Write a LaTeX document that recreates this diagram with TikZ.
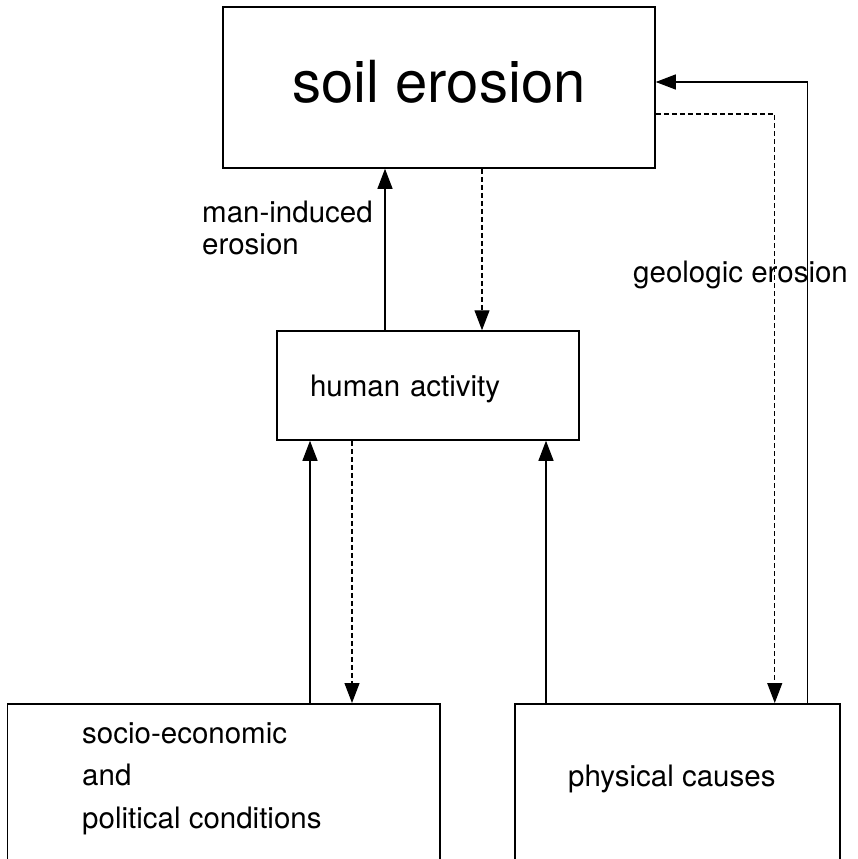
\documentclass[tikz,border=0pt]{standalone}
\usepackage{fontspec}
\setmainfont{TeX Gyre Heros}
\usetikzlibrary{arrows.meta,positioning}

\begin{document}
\begin{tikzpicture}[x=1pt,y=-1pt,
    box/.style={draw, line width=1.5pt, inner sep=0pt},
    lbl/.style={inner sep=0pt, font=\fontsize{29.5}{32}\selectfont, align=left},
    arr/.style={line width=1.1pt, -{Triangle[length=20pt,width=15pt]}},
    dasharr/.style={arr, dash pattern=on 5pt off 3pt}]
        \path[use as bounding box] (0,0) rectangle (857,859);
        \clip (0,0) rectangle (857,859);

        \node[box, minimum width=432pt, minimum height=161pt, text depth=12pt, font=\fontsize{58}{60}\selectfont] (soil) at (439,87.5) {soil erosion};
        \node[box, minimum width=302pt, minimum height=109pt, text width=236pt, text height=29pt, align=left, font=\fontsize{29.5}{32}\selectfont] (human) at (428,385.5) {human activity};
        \node[box, minimum width=432.5pt, minimum height=260pt, anchor=north west] (socio) at (6.5,703) {};
        \node[box, minimum width=325pt, minimum height=260pt, anchor=north west] (phys) at (514,703) {};

        \node[lbl, font=\fontsize{29.5}{42.6}\selectfont, anchor=north west] (sociotext) at (82,722) {socio-economic\\and\\political conditions};
        \node[lbl, anchor=base west] (phystext) at (568,786) {physical causes};
        \node[lbl, anchor=north west] (manlbl) at (202,201) {man-induced\\erosion};
        \node[lbl, anchor=base west] (geolbl) at (633,282) {geologic erosion};

        \draw[arr] ([xshift=-43pt]human.north) -- ([xshift=-43pt]human.north |- soil.south);
        \draw[dasharr] ([xshift=54pt]human.north |- soil.south) -- ([xshift=54pt]human.north);

        \foreach \dx in {-118,118} {
             \draw[arr] ([xshift=\dx pt]human.south |- socio.north) -- ([xshift=\dx pt]human.south);
        }
        \draw[dasharr] ([xshift=-76pt]human.south) -- ([xshift=-76pt]human.south |- socio.north);

        \draw[dasharr] ([yshift=-26.5pt]soil.east) -| ([xshift=97.5pt]phys.north);
        \draw[arr] ([xshift=130.5pt]phys.north) |- ([yshift=5.5pt]soil.east);
\end{tikzpicture}
\end{document}
